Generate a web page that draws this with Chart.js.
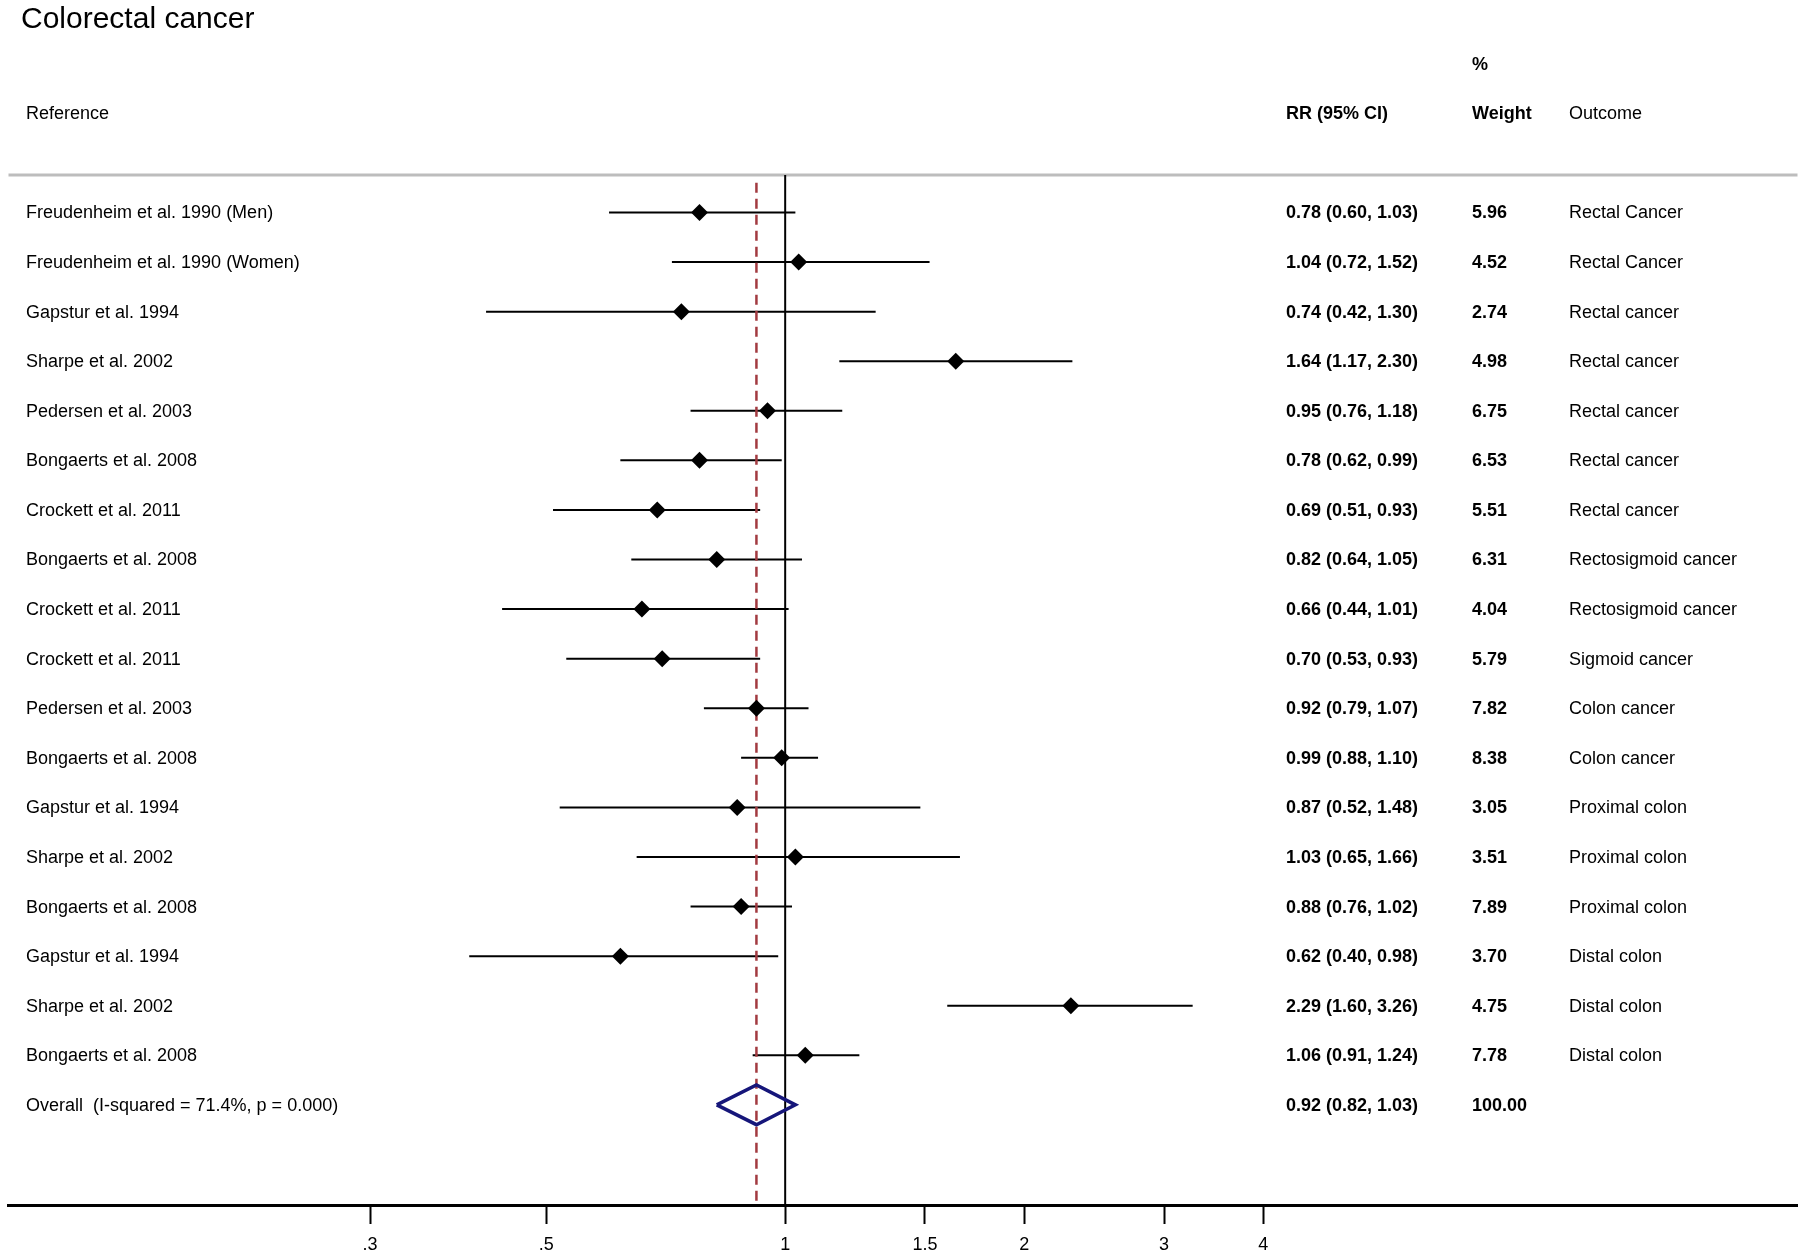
<!DOCTYPE html>
<html>
<head>
<meta charset="utf-8">
<script src="https://cdn.jsdelivr.net/npm/chart.js@4.4.1/dist/chart.umd.min.js"></script>
<style>
  html, body { margin: 0; padding: 0; background: #fff; }
  #wrap { width: 1806px; height: 1257px; position: relative; }
</style>
</head>
<body>
<div id="wrap"><canvas id="forest"></canvas></div>
<script>
// Study rows, top to bottom
const studies = [
  'Freudenheim et al. 1990 (Men)',
  'Freudenheim et al. 1990 (Women)',
  'Gapstur et al. 1994',
  'Sharpe et al. 2002',
  'Pedersen et al. 2003',
  'Bongaerts et al. 2008',
  'Crockett et al. 2011',
  'Bongaerts et al. 2008',
  'Crockett et al. 2011',
  'Crockett et al. 2011',
  'Pedersen et al. 2003',
  'Bongaerts et al. 2008',
  'Gapstur et al. 1994',
  'Sharpe et al. 2002',
  'Bongaerts et al. 2008',
  'Gapstur et al. 1994',
  'Sharpe et al. 2002',
  'Bongaerts et al. 2008'
];
const rr    = [0.78, 1.04, 0.74, 1.64, 0.95, 0.78, 0.69, 0.82, 0.66, 0.70, 0.92, 0.99, 0.87, 1.03, 0.88, 0.62, 2.29, 1.06];
const lower = [0.60, 0.72, 0.42, 1.17, 0.76, 0.62, 0.51, 0.64, 0.44, 0.53, 0.79, 0.88, 0.52, 0.65, 0.76, 0.40, 1.60, 0.91];
const upper = [1.03, 1.52, 1.30, 2.30, 1.18, 0.99, 0.93, 1.05, 1.01, 0.93, 1.07, 1.10, 1.48, 1.66, 1.02, 0.98, 3.26, 1.24];
const weights = [5.96, 4.52, 2.74, 4.98, 6.75, 6.53, 5.51, 6.31, 4.04, 5.79, 7.82, 8.38, 3.05, 3.51, 7.89, 3.70, 4.75, 7.78];
const outcomes = [
  'Rectal Cancer', 'Rectal Cancer', 'Rectal cancer', 'Rectal cancer', 'Rectal cancer',
  'Rectal cancer', 'Rectal cancer', 'Rectosigmoid cancer', 'Rectosigmoid cancer',
  'Sigmoid cancer', 'Colon cancer', 'Colon cancer', 'Proximal colon', 'Proximal colon',
  'Proximal colon', 'Distal colon', 'Distal colon', 'Distal colon'
];

// Pooled estimate
const overallLabel = 'Overall  (I-squared = 71.4%, p = 0.000)';
const overallRR = 0.92;
const overallLower = 0.82;
const overallUpper = 1.03;
const overallWeight = 100.00;

// x axis ticks
const tickValues = [0.3, 0.5, 1, 1.5, 2, 3, 4];
const tickLabels = ['.3', '.5', '1', '1.5', '2', '3', '4'];

const FONT = '"Liberation Sans", Arial, Helvetica, sans-serif';
const overallRow = studies.length;
const Y_MIN = -0.756;
const Y_MAX = 20.02;
const DIAMOND_H = 0.40;   // half height of pooled diamond, in rows

const fmt = v => v.toFixed(2);

// Error bars, one small line per study
const ciSets = studies.map((_, i) => ({
  type: 'line',
  data: [{ x: lower[i], y: i }, { x: upper[i], y: i }],
  borderColor: '#000',
  borderWidth: 2,
  pointRadius: 0,
  order: 3
}));

// Text columns and the header rule
const forestText = {
  id: 'forestText',
  beforeDatasetsDraw(chart) {
    const { ctx, chartArea } = chart;
    ctx.save();
    ctx.strokeStyle = '#bdbdbd';
    ctx.lineWidth = 3;
    ctx.beginPath();
    ctx.moveTo(chartArea.left, chartArea.top);
    ctx.lineTo(chartArea.right, chartArea.top);
    ctx.stroke();
    ctx.restore();
  },
  afterDraw(chart) {
    const { ctx } = chart;
    const yScale = chart.scales.y;
    const regular = '18px ' + FONT;
    const bold = 'bold 18px ' + FONT;
    ctx.save();
    ctx.fillStyle = '#000';
    ctx.textBaseline = 'middle';
    ctx.textAlign = 'left';

    ctx.font = '30px ' + FONT;
    ctx.fillText('Colorectal cancer', 21, 20);

    ctx.font = regular;
    ctx.fillText('Reference', 26, 114);
    ctx.fillText('Outcome', 1569, 114);
    ctx.font = bold;
    ctx.fillText('%', 1472, 65);
    ctx.fillText('RR (95% CI)', 1286, 114);
    ctx.fillText('Weight', 1472, 114);

    studies.forEach((name, i) => {
      const y = yScale.getPixelForValue(i) + 1;
      ctx.font = regular;
      ctx.fillText(name, 26, y);
      ctx.fillText(outcomes[i], 1569, y);
      ctx.font = bold;
      ctx.fillText(`${fmt(rr[i])} (${fmt(lower[i])}, ${fmt(upper[i])})`, 1286, y);
      ctx.fillText(fmt(weights[i]), 1472, y);
    });

    const yo = yScale.getPixelForValue(overallRow) + 1;
    ctx.font = regular;
    ctx.fillText(overallLabel, 26, yo);
    ctx.font = bold;
    ctx.fillText(`${fmt(overallRR)} (${fmt(overallLower)}, ${fmt(overallUpper)})`, 1286, yo);
    ctx.fillText(fmt(overallWeight), 1472, yo);
    ctx.restore();
  }
};

Chart.defaults.font.family = FONT;

new Chart(document.getElementById('forest'), {
  type: 'scatter',
  data: {
    datasets: [
      {
        // study point estimates
        type: 'scatter',
        data: rr.map((v, i) => ({ x: v, y: i })),
        pointStyle: 'rectRot',
        pointRadius: 8.5,
        backgroundColor: '#000',
        borderWidth: 0,
        order: 0
      },
      {
        // pooled diamond
        type: 'line',
        data: [
          { x: overallLower, y: overallRow },
          { x: overallRR, y: overallRow - DIAMOND_H },
          { x: overallUpper, y: overallRow },
          { x: overallRR, y: overallRow + DIAMOND_H },
          { x: overallLower, y: overallRow }
        ],
        borderColor: '#16167a',
        borderWidth: 3.5,
        borderJoinStyle: 'miter',
        pointRadius: 0,
        fill: false,
        tension: 0,
        order: 1
      },
      {
        // pooled estimate reference line
        type: 'line',
        data: [{ x: overallRR, y: -0.6 }, { x: overallRR, y: Y_MAX }],
        borderColor: '#a23a40',
        borderWidth: 2.5,
        borderDash: [10, 6],
        pointRadius: 0,
        order: 2
      },
      {
        // line of no effect
        type: 'line',
        data: [{ x: 1, y: Y_MIN }, { x: 1, y: Y_MAX }],
        borderColor: '#000',
        borderWidth: 2,
        pointRadius: 0,
        order: 4
      },
      ...ciSets
    ]
  },
  options: {
    responsive: true,
    maintainAspectRatio: false,
    animation: false,
    layout: { padding: { left: 6, right: 7, top: 175, bottom: 0 } },
    plugins: {
      legend: { display: false },
      tooltip: { enabled: false }
    },
    scales: {
      x: {
        type: 'logarithmic',
        min: 0.10514,
        max: 18.837,
        bounds: 'data',
        afterBuildTicks: scale => {
          scale.ticks = tickValues.map(v => ({ value: v }));
        },
        afterFit: scale => { scale.height = 52; },
        grid: {
          drawOnChartArea: false,
          drawTicks: true,
          tickLength: 19,
          tickWidth: 2,
          tickColor: '#000'
        },
        border: { display: true, color: '#000', width: 3 },
        ticks: {
          autoSkip: false,
          maxRotation: 0,
          padding: 10,
          color: '#000',
          font: { size: 18 },
          callback: (value, index) => tickLabels[index]
        }
      },
      y: {
        type: 'linear',
        display: false,
        reverse: true,
        min: Y_MIN,
        max: Y_MAX
      }
    }
  },
  plugins: [forestText]
});
</script>
</body>
</html>
